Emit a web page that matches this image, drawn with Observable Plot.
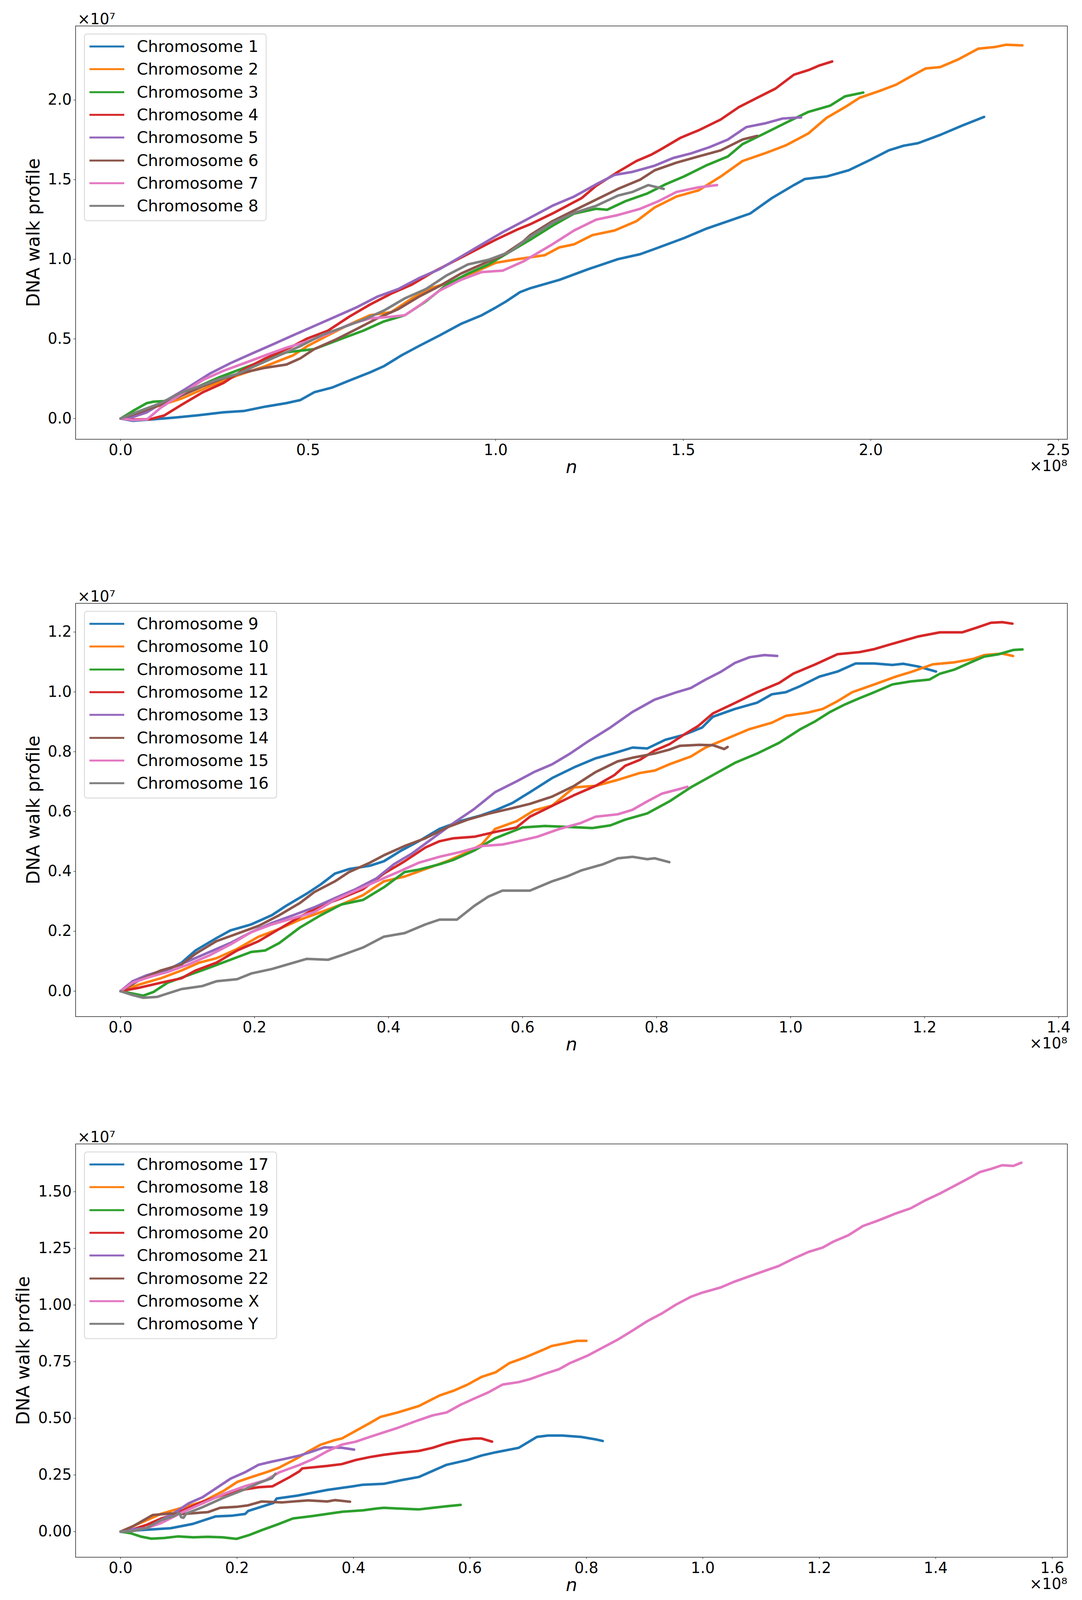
<!DOCTYPE html>
<html>
<head>
<meta charset="utf-8">
<script src="https://cdn.jsdelivr.net/npm/d3@7"></script>
<script src="https://cdn.jsdelivr.net/npm/@observablehq/plot@0.6"></script>
<style>
  html, body { margin: 0; padding: 0; background: white; }
  #page { position: relative; width: 2769px; height: 4096px; font-family: "DejaVu Sans", sans-serif; overflow: hidden; }
  .panel { position: absolute; left: 0; width: 2769px; }
  .legend {
    position: absolute; left: 215px; top: 86px;
    padding: 2px 19px 8px 12px;
    border: 2px solid #d5d5d5; border-radius: 8px;
    background: rgba(255, 255, 255, 0.8);
    font-size: 41px; color: black;
  }
  .legend .row { display: flex; align-items: center; height: 58.3px; white-space: nowrap; }
  .legend svg { margin-right: 32px; }
</style>
</head>
<body>
<div id="page"></div>
<script>
// colours (matplotlib tab10)
const tab10 = ["#1f77b4", "#ff7f0e", "#2ca02c", "#d62728", "#9467bd", "#8c564b", "#e377c2", "#7f7f7f"];

// n in units of 1e8, walk profile in units of 1e7
const chr1 = [[0,0],[0.033,-0.014],[0.079,-0.006],[0.144,0.006],[0.2,0.019],[0.274,0.039],[0.33,0.048],[0.386,0.075],[0.442,0.097],[0.479,0.116],[0.516,0.165],[0.563,0.194],[0.609,0.238],[0.665,0.29],[0.702,0.329],[0.749,0.397],[0.795,0.455],[0.851,0.523],[0.907,0.594],[0.963,0.649],[1.0,0.697],[1.028,0.736],[1.065,0.794],[1.093,0.819],[1.170,0.871],[1.248,0.939],[1.326,1.001],[1.385,1.032],[1.424,1.065],[1.502,1.133],[1.560,1.191],[1.619,1.239],[1.678,1.287],[1.736,1.384],[1.795,1.466],[1.824,1.504],[1.882,1.520],[1.941,1.559],[2.0,1.626],[2.048,1.684],[2.087,1.713],[2.126,1.729],[2.185,1.781],[2.243,1.839],[2.302,1.894]];
const chr2 = [[0,0],[0.051,0.039],[0.098,0.077],[0.163,0.126],[0.237,0.203],[0.312,0.271],[0.386,0.329],[0.460,0.397],[0.498,0.455],[0.553,0.523],[0.609,0.590],[0.665,0.649],[0.721,0.668],[0.777,0.755],[0.833,0.823],[0.888,0.862],[0.944,0.920],[1.0,0.978],[1.056,1.0],[1.131,1.026],[1.170,1.075],[1.209,1.094],[1.258,1.152],[1.317,1.181],[1.375,1.239],[1.424,1.326],[1.482,1.394],[1.541,1.433],[1.600,1.520],[1.658,1.617],[1.717,1.665],[1.775,1.717],[1.834,1.791],[1.882,1.888],[1.931,1.955],[1.970,2.014],[2.029,2.062],[2.068,2.097],[2.107,2.149],[2.146,2.198],[2.185,2.207],[2.234,2.256],[2.287,2.323],[2.331,2.333],[2.360,2.347],[2.404,2.343]];
const chr3 = [[0,0],[0.033,0.048],[0.070,0.097],[0.088,0.106],[0.116,0.110],[0.163,0.155],[0.209,0.203],[0.265,0.261],[0.330,0.319],[0.386,0.368],[0.442,0.416],[0.516,0.436],[0.591,0.503],[0.647,0.552],[0.702,0.610],[0.758,0.649],[0.814,0.736],[0.870,0.842],[0.926,0.910],[0.981,0.968],[1.037,1.046],[1.092,1.123],[1.151,1.210],[1.209,1.287],[1.268,1.317],[1.297,1.311],[1.346,1.365],[1.404,1.413],[1.453,1.471],[1.502,1.520],[1.560,1.588],[1.619,1.646],[1.658,1.723],[1.717,1.791],[1.775,1.859],[1.834,1.926],[1.892,1.965],[1.931,2.023],[1.980,2.047]];
const chr4 = [[0,0],[0.033,-0.006],[0.079,-0.004],[0.116,0.019],[0.163,0.087],[0.219,0.165],[0.274,0.223],[0.330,0.310],[0.386,0.378],[0.451,0.445],[0.498,0.503],[0.553,0.552],[0.609,0.639],[0.665,0.716],[0.721,0.784],[0.777,0.842],[0.833,0.920],[0.888,0.987],[0.944,1.055],[1.0,1.123],[1.056,1.185],[1.092,1.220],[1.151,1.287],[1.229,1.384],[1.268,1.462],[1.326,1.549],[1.375,1.617],[1.414,1.656],[1.443,1.694],[1.492,1.762],[1.541,1.810],[1.600,1.878],[1.648,1.955],[1.697,2.014],[1.746,2.072],[1.795,2.159],[1.834,2.188],[1.863,2.217],[1.897,2.242]];
const chr5 = [[0,0],[0.033,0.01],[0.070,0.039],[0.116,0.106],[0.172,0.184],[0.237,0.281],[0.293,0.348],[0.349,0.407],[0.405,0.465],[0.460,0.523],[0.516,0.581],[0.572,0.639],[0.628,0.697],[0.684,0.765],[0.740,0.813],[0.795,0.881],[0.851,0.939],[0.907,1.016],[0.963,1.094],[1.019,1.171],[1.074,1.239],[1.151,1.336],[1.209,1.394],[1.268,1.471],[1.317,1.530],[1.365,1.549],[1.424,1.588],[1.473,1.636],[1.521,1.665],[1.570,1.704],[1.619,1.752],[1.668,1.830],[1.717,1.853],[1.765,1.884],[1.814,1.891]];
const chr6 = [[0,0],[0.051,0.039],[0.107,0.087],[0.163,0.145],[0.219,0.203],[0.274,0.252],[0.330,0.290],[0.386,0.319],[0.442,0.339],[0.479,0.378],[0.516,0.436],[0.572,0.494],[0.628,0.561],[0.684,0.629],[0.740,0.687],[0.795,0.765],[0.851,0.833],[0.907,0.910],[0.963,0.968],[1.019,1.026],[1.074,1.113],[1.092,1.152],[1.151,1.239],[1.209,1.307],[1.268,1.375],[1.326,1.442],[1.385,1.500],[1.424,1.559],[1.482,1.607],[1.541,1.646],[1.600,1.684],[1.658,1.752],[1.697,1.775]];
const chr7 = [[0,0],[0.033,-0.01],[0.070,-0.006],[0.107,0.068],[0.163,0.155],[0.219,0.242],[0.274,0.300],[0.330,0.348],[0.386,0.397],[0.442,0.445],[0.498,0.484],[0.553,0.532],[0.609,0.590],[0.665,0.629],[0.721,0.639],[0.758,0.649],[0.795,0.707],[0.851,0.804],[0.907,0.871],[0.963,0.920],[1.019,0.929],[1.074,0.987],[1.151,1.094],[1.209,1.181],[1.268,1.249],[1.326,1.278],[1.385,1.317],[1.434,1.365],[1.482,1.423],[1.541,1.452],[1.590,1.466]];
const chr8 = [[0,0],[0.051,0.048],[0.107,0.097],[0.163,0.165],[0.2,0.194],[0.256,0.242],[0.312,0.281],[0.367,0.339],[0.423,0.397],[0.479,0.455],[0.535,0.523],[0.591,0.571],[0.647,0.620],[0.702,0.678],[0.758,0.755],[0.814,0.813],[0.870,0.900],[0.926,0.968],[0.981,0.997],[1.037,1.046],[1.092,1.142],[1.151,1.229],[1.209,1.291],[1.268,1.336],[1.326,1.400],[1.365,1.423],[1.407,1.466],[1.448,1.442]];

const chr9 = [[0,0],[0.029,0.038],[0.060,0.059],[0.091,0.095],[0.112,0.136],[0.143,0.177],[0.164,0.203],[0.195,0.223],[0.226,0.254],[0.247,0.285],[0.278,0.326],[0.299,0.357],[0.320,0.393],[0.341,0.408],[0.372,0.419],[0.393,0.434],[0.419,0.470],[0.445,0.501],[0.476,0.542],[0.507,0.568],[0.539,0.588],[0.559,0.604],[0.585,0.629],[0.611,0.665],[0.644,0.712],[0.677,0.748],[0.709,0.778],[0.742,0.799],[0.764,0.814],[0.786,0.811],[0.813,0.840],[0.840,0.856],[0.868,0.881],[0.884,0.917],[0.917,0.943],[0.950,0.964],[0.972,0.992],[0.993,0.999],[1.015,1.020],[1.043,1.051],[1.070,1.068],[1.097,1.095],[1.125,1.095],[1.152,1.090],[1.168,1.094],[1.190,1.085],[1.217,1.068]];
const chr10 = [[0,0],[0.029,0.023],[0.060,0.043],[0.091,0.069],[0.117,0.095],[0.143,0.110],[0.174,0.141],[0.206,0.182],[0.237,0.208],[0.268,0.239],[0.299,0.264],[0.330,0.290],[0.362,0.321],[0.393,0.367],[0.424,0.383],[0.455,0.408],[0.487,0.434],[0.518,0.465],[0.539,0.490],[0.559,0.542],[0.591,0.568],[0.617,0.604],[0.644,0.620],[0.677,0.681],[0.709,0.686],[0.742,0.706],[0.775,0.729],[0.797,0.737],[0.819,0.758],[0.851,0.784],[0.873,0.814],[0.906,0.845],[0.939,0.876],[0.972,0.897],[0.993,0.920],[1.026,0.931],[1.048,0.943],[1.070,0.969],[1.092,0.999],[1.125,1.025],[1.157,1.051],[1.179,1.066],[1.212,1.092],[1.245,1.099],[1.272,1.110],[1.289,1.123],[1.316,1.128],[1.332,1.120]];
const chr11 = [[0,0],[0.018,-0.008],[0.034,-0.015],[0.049,-0.003],[0.070,0.028],[0.101,0.053],[0.133,0.079],[0.164,0.105],[0.195,0.131],[0.216,0.136],[0.237,0.161],[0.268,0.213],[0.299,0.254],[0.330,0.290],[0.362,0.305],[0.393,0.347],[0.424,0.398],[0.445,0.406],[0.476,0.424],[0.497,0.439],[0.528,0.470],[0.559,0.511],[0.600,0.547],[0.633,0.552],[0.655,0.550],[0.704,0.545],[0.731,0.554],[0.753,0.573],[0.786,0.594],[0.819,0.634],[0.851,0.681],[0.884,0.722],[0.917,0.763],[0.950,0.794],[0.983,0.830],[1.015,0.876],[1.037,0.902],[1.059,0.933],[1.081,0.958],[1.103,0.979],[1.125,0.999],[1.152,1.025],[1.179,1.035],[1.207,1.041],[1.223,1.061],[1.245,1.075],[1.267,1.097],[1.289,1.118],[1.311,1.126],[1.332,1.140],[1.346,1.142]];
const chr12 = [[0,0],[0.029,0.012],[0.060,0.028],[0.091,0.043],[0.112,0.069],[0.143,0.095],[0.174,0.136],[0.206,0.167],[0.237,0.208],[0.268,0.249],[0.299,0.285],[0.330,0.311],[0.362,0.341],[0.393,0.393],[0.424,0.434],[0.455,0.480],[0.476,0.501],[0.497,0.511],[0.528,0.516],[0.559,0.532],[0.591,0.547],[0.611,0.583],[0.644,0.619],[0.677,0.655],[0.709,0.686],[0.737,0.722],[0.753,0.753],[0.775,0.773],[0.797,0.804],[0.819,0.825],[0.840,0.856],[0.862,0.886],[0.884,0.928],[0.917,0.963],[0.950,0.999],[0.983,1.030],[1.004,1.061],[1.037,1.092],[1.070,1.126],[1.103,1.133],[1.125,1.143],[1.157,1.164],[1.190,1.185],[1.223,1.199],[1.256,1.199],[1.278,1.215],[1.299,1.231],[1.316,1.233],[1.331,1.228]];
const chr13 = [[0,0],[0.018,0.033],[0.039,0.053],[0.070,0.074],[0.101,0.100],[0.133,0.131],[0.164,0.161],[0.195,0.197],[0.226,0.228],[0.258,0.254],[0.289,0.280],[0.320,0.311],[0.351,0.341],[0.382,0.377],[0.408,0.424],[0.435,0.460],[0.466,0.511],[0.497,0.562],[0.528,0.609],[0.559,0.665],[0.591,0.701],[0.617,0.732],[0.644,0.758],[0.671,0.794],[0.698,0.835],[0.731,0.881],[0.764,0.933],[0.797,0.974],[0.830,0.999],[0.851,1.013],[0.873,1.041],[0.895,1.066],[0.917,1.097],[0.939,1.116],[0.961,1.123],[0.980,1.120]];
const chr14 = [[0,0],[0.029,0.038],[0.060,0.069],[0.091,0.089],[0.112,0.125],[0.143,0.167],[0.174,0.192],[0.206,0.218],[0.237,0.254],[0.268,0.295],[0.289,0.331],[0.320,0.367],[0.341,0.398],[0.372,0.429],[0.393,0.454],[0.424,0.485],[0.455,0.511],[0.487,0.547],[0.518,0.573],[0.549,0.593],[0.580,0.609],[0.611,0.626],[0.644,0.650],[0.677,0.686],[0.709,0.732],[0.742,0.768],[0.764,0.780],[0.797,0.794],[0.819,0.807],[0.835,0.820],[0.862,0.823],[0.884,0.822],[0.901,0.809],[0.906,0.816]];
const chr15 = [[0,0],[0.018,0.028],[0.044,0.048],[0.070,0.064],[0.101,0.089],[0.133,0.120],[0.164,0.156],[0.195,0.197],[0.226,0.223],[0.258,0.244],[0.289,0.264],[0.320,0.305],[0.351,0.336],[0.382,0.367],[0.414,0.398],[0.445,0.429],[0.476,0.449],[0.507,0.465],[0.539,0.485],[0.570,0.490],[0.591,0.500],[0.622,0.516],[0.655,0.542],[0.687,0.562],[0.709,0.583],[0.742,0.591],[0.764,0.606],[0.786,0.634],[0.808,0.660],[0.835,0.676],[0.846,0.683]];
const chr16 = [[0,0],[0.018,-0.013],[0.034,-0.022],[0.055,-0.019],[0.070,-0.008],[0.091,0.007],[0.122,0.017],[0.143,0.033],[0.174,0.040],[0.195,0.059],[0.226,0.074],[0.258,0.095],[0.278,0.108],[0.310,0.105],[0.330,0.120],[0.362,0.146],[0.393,0.182],[0.424,0.194],[0.455,0.223],[0.476,0.239],[0.502,0.239],[0.528,0.285],[0.549,0.316],[0.570,0.336],[0.611,0.336],[0.644,0.367],[0.666,0.383],[0.687,0.403],[0.720,0.424],[0.742,0.444],[0.764,0.449],[0.786,0.441],[0.797,0.444],[0.819,0.431]];

const chr17 = [[0,0],[0.035,0.007],[0.086,0.015],[0.124,0.034],[0.163,0.067],[0.190,0.070],[0.214,0.078],[0.219,0.091],[0.263,0.127],[0.268,0.146],[0.304,0.159],[0.355,0.184],[0.399,0.200],[0.416,0.207],[0.452,0.211],[0.482,0.227],[0.512,0.241],[0.536,0.268],[0.560,0.295],[0.596,0.316],[0.620,0.336],[0.644,0.350],[0.684,0.370],[0.715,0.418],[0.734,0.424],[0.759,0.424],[0.791,0.418],[0.816,0.407],[0.828,0.400]];
const chr18 = [[0,0],[0.033,0.037],[0.069,0.078],[0.105,0.105],[0.141,0.132],[0.177,0.180],[0.201,0.220],[0.225,0.241],[0.249,0.261],[0.272,0.282],[0.302,0.322],[0.320,0.350],[0.344,0.384],[0.368,0.404],[0.380,0.411],[0.404,0.445],[0.428,0.479],[0.446,0.506],[0.476,0.526],[0.512,0.554],[0.548,0.601],[0.572,0.622],[0.596,0.649],[0.620,0.683],[0.644,0.703],[0.668,0.744],[0.696,0.770],[0.728,0.805],[0.740,0.819],[0.765,0.832],[0.784,0.842],[0.8,0.842]];
const chr19 = [[0,0],[0.017,-0.007],[0.035,-0.022],[0.053,-0.031],[0.075,-0.028],[0.099,-0.021],[0.125,-0.025],[0.150,-0.023],[0.175,-0.025],[0.199,-0.032],[0.220,-0.016],[0.243,0.007],[0.270,0.032],[0.296,0.058],[0.330,0.069],[0.360,0.080],[0.381,0.088],[0.416,0.094],[0.440,0.102],[0.452,0.105],[0.476,0.102],[0.512,0.098],[0.536,0.105],[0.560,0.112],[0.584,0.118]];
const chr20 = [[0,0],[0.021,0.010],[0.045,0.030],[0.069,0.057],[0.093,0.078],[0.117,0.105],[0.141,0.132],[0.165,0.152],[0.189,0.173],[0.213,0.186],[0.237,0.196],[0.261,0.200],[0.290,0.240],[0.307,0.266],[0.312,0.279],[0.355,0.290],[0.380,0.298],[0.404,0.316],[0.428,0.329],[0.452,0.339],[0.476,0.347],[0.512,0.356],[0.536,0.370],[0.560,0.390],[0.584,0.404],[0.608,0.411],[0.620,0.411],[0.638,0.397]];
const chr21 = [[0,0],[0.021,0.010],[0.045,0.016],[0.069,0.050],[0.093,0.084],[0.117,0.125],[0.141,0.152],[0.165,0.193],[0.189,0.234],[0.213,0.261],[0.237,0.295],[0.260,0.309],[0.284,0.322],[0.308,0.336],[0.332,0.356],[0.350,0.372],[0.380,0.370],[0.401,0.362]];
const chr22 = [[0,0],[0.021,0.023],[0.055,0.073],[0.086,0.080],[0.107,0.078],[0.150,0.086],[0.171,0.105],[0.201,0.110],[0.219,0.116],[0.242,0.133],[0.278,0.129],[0.322,0.138],[0.355,0.133],[0.368,0.139],[0.394,0.132]];
const chrX = [[0,0],[0.021,0.003],[0.045,0.016],[0.069,0.037],[0.105,0.084],[0.141,0.125],[0.177,0.166],[0.213,0.200],[0.249,0.227],[0.272,0.261],[0.308,0.295],[0.332,0.322],[0.356,0.356],[0.380,0.384],[0.404,0.397],[0.428,0.418],[0.452,0.438],[0.476,0.458],[0.512,0.492],[0.536,0.513],[0.560,0.526],[0.584,0.560],[0.608,0.588],[0.632,0.615],[0.656,0.649],[0.684,0.660],[0.703,0.673],[0.728,0.696],[0.753,0.717],[0.772,0.744],[0.803,0.778],[0.828,0.812],[0.853,0.846],[0.879,0.887],[0.904,0.928],[0.929,0.962],[0.954,1.002],[0.979,1.036],[0.998,1.054],[1.030,1.077],[1.055,1.104],[1.092,1.138],[1.130,1.172],[1.155,1.204],[1.181,1.234],[1.206,1.254],[1.225,1.281],[1.250,1.308],[1.275,1.349],[1.300,1.372],[1.331,1.404],[1.357,1.427],[1.382,1.462],[1.407,1.492],[1.432,1.526],[1.457,1.560],[1.476,1.587],[1.495,1.601],[1.514,1.617],[1.533,1.614],[1.547,1.628]];
const chrY = [[0,0],[0.021,0.003],[0.045,0.016],[0.069,0.050],[0.093,0.070],[0.101,0.083],[0.104,0.064],[0.108,0.061],[0.113,0.080],[0.141,0.108],[0.177,0.150],[0.213,0.186],[0.237,0.214],[0.260,0.236],[0.266,0.255]];

const names1 = ["Chromosome 1", "Chromosome 2", "Chromosome 3", "Chromosome 4", "Chromosome 5", "Chromosome 6", "Chromosome 7", "Chromosome 8"];
const names2 = ["Chromosome 9", "Chromosome 10", "Chromosome 11", "Chromosome 12", "Chromosome 13", "Chromosome 14", "Chromosome 15", "Chromosome 16"];
const names3 = ["Chromosome 17", "Chromosome 18", "Chromosome 19", "Chromosome 20", "Chromosome 21", "Chromosome 22", "Chromosome X", "Chromosome Y"];

const xTicks1 = [0, 0.5, 1.0, 1.5, 2.0, 2.5];
const yTicks1 = [0, 0.5, 1.0, 1.5, 2.0];
const xTicks2 = [0, 0.2, 0.4, 0.6, 0.8, 1.0, 1.2, 1.4];
const yTicks2 = [0, 0.2, 0.4, 0.6, 0.8, 1.0, 1.2];
const xTicks3 = [0, 0.2, 0.4, 0.6, 0.8, 1.0, 1.2, 1.4, 1.6];
const yTicks3 = [0, 0.25, 0.5, 0.75, 1.0, 1.25, 1.5];

// the window shows 4096 px of height, so the three panels are stacked a bit tighter
const panels = [
  {top: 0, names: names1, series: [chr1, chr2, chr3, chr4, chr5, chr6, chr7, chr8],
   xDomain: [-0.120, 2.524], yDomain: [-0.130, 2.465], xTicks: xTicks1, yTicks: yTicks1,
   yFormat: d3.format(".1f"), ylabelDx: -107},
  {top: 1478, names: names2, series: [chr9, chr10, chr11, chr12, chr13, chr14, chr15, chr16],
   xDomain: [-0.067, 1.413], yDomain: [-0.085, 1.296], xTicks: xTicks2, yTicks: yTicks2,
   yFormat: d3.format(".1f"), ylabelDx: -107},
  {top: 2862, names: names3, series: [chr17, chr18, chr19, chr20, chr21, chr22, chrX, chrY],
   xDomain: [-0.0772, 1.626], yDomain: [-0.113, 1.711], xTicks: xTicks3, yTicks: yTicks3,
   yFormat: d3.format(".2f"), ylabelDx: -133}
];

const page = document.getElementById("page");

panels.forEach((p) => {
  const rows = p.names.flatMap((name, i) => p.series[i].map(([n, v]) => ({name, n, v})));

  const chart = Plot.plot({
    width: 2769,
    height: 1228,
    marginTop: 66,
    marginBottom: 104,
    marginLeft: 193,
    marginRight: 38,
    style: {fontFamily: "DejaVu Sans", fontSize: "38.5px", color: "black", background: "white"},
    x: {domain: p.xDomain, ticks: p.xTicks, tickFormat: d3.format(".1f"), tickSize: 5, tickPadding: 8, label: null},
    y: {domain: p.yDomain, ticks: p.yTicks, tickFormat: p.yFormat, tickSize: 5, tickPadding: 5, label: null},
    color: {domain: p.names, range: tab10},
    marks: [
      Plot.line(rows, {x: "n", y: "v", z: "name", stroke: "name", strokeWidth: 6.5, strokeLinejoin: "round"}),
      Plot.frame({stroke: "black", strokeWidth: 1.3}),
      Plot.text(["×10⁷"], {text: (d) => d, frameAnchor: "top-left", textAnchor: "start", lineAnchor: "bottom", dx: 5, dy: -5, fontSize: 38.5}),
      Plot.text(["×10⁸"], {text: (d) => d, frameAnchor: "bottom-right", textAnchor: "end", lineAnchor: "bottom", dy: 81, fontSize: 38.5}),
      Plot.text(["n"], {text: (d) => d, frameAnchor: "bottom", lineAnchor: "bottom", dy: 86, fontSize: 46, fontStyle: "italic"}),
      Plot.text(["DNA walk profile"], {text: (d) => d, frameAnchor: "left", rotate: -90, dx: p.ylabelDx, textAnchor: "middle", lineAnchor: "middle", fontSize: 46})
    ]
  });

  const wrap = document.createElement("div");
  wrap.className = "panel";
  wrap.style.top = p.top + "px";
  wrap.appendChild(chart);

  // legend in the upper left corner
  const box = document.createElement("div");
  box.className = "legend";
  p.names.forEach((name, i) => {
    const row = document.createElement("div");
    row.className = "row";
    row.innerHTML = `<svg width="89" height="10"><line x1="0" x2="89" y1="5" y2="5" stroke="${tab10[i]}" stroke-width="5"/></svg><span>${name}</span>`;
    box.appendChild(row);
  });
  wrap.appendChild(box);

  page.appendChild(wrap);
});
</script>
</body>
</html>
